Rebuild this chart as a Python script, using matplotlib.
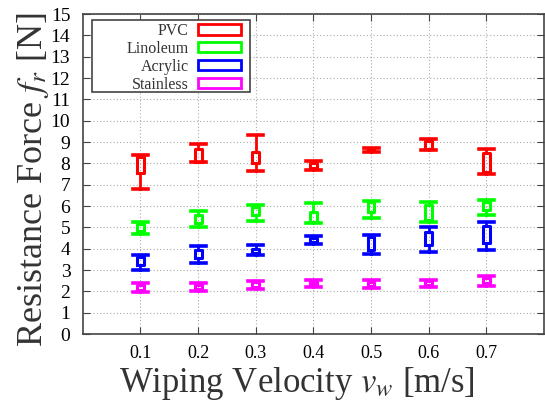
import matplotlib
matplotlib.use("Agg")
import matplotlib.pyplot as plt
from matplotlib.patches import Rectangle

plt.rcParams['font.family'] = ['Liberation Serif', 'DejaVu Serif']
plt.rcParams['mathtext.fontset'] = 'stix'

velocity = [0.1, 0.2, 0.3, 0.4, 0.5, 0.6, 0.7]
x_tick_labels = ['0.1', '0.2', '0.3', '0.4', '0.5', '0.6', '0.7']
materials = ['PVC', 'Linoleum', 'Acrylic', 'Stainless']
colors = ['#ff0000', '#00ff00', '#0000ff', '#ff00ff']

# whisker low, box low, box high, whisker high
pvc_min = [6.78, 8.05, 7.66, 7.69, 8.53, 8.63, 7.50]
pvc_q1 = [7.56, 8.08, 8.00, 7.80, 8.58, 8.70, 7.61]
pvc_q3 = [8.31, 8.70, 8.55, 8.00, 8.68, 9.05, 8.47]
pvc_max = [8.39, 8.89, 9.35, 8.11, 8.73, 9.14, 8.66]

lin_min = [4.67, 5.03, 5.30, 5.22, 5.42, 5.27, 5.58]
lin_q1 = [4.83, 5.19, 5.58, 5.27, 5.73, 5.35, 5.81]
lin_q3 = [5.16, 5.58, 5.94, 5.73, 6.20, 6.05, 6.20]
lin_max = [5.25, 5.77, 6.03, 6.13, 6.26, 6.19, 6.31]

acr_min = [3.00, 3.34, 3.73, 4.22, 3.75, 3.83, 3.94]
acr_q1 = [3.23, 3.55, 3.82, 4.30, 3.94, 4.17, 4.25]
acr_q3 = [3.60, 3.94, 3.97, 4.50, 4.56, 4.80, 5.06]
acr_max = [3.70, 4.13, 4.17, 4.59, 4.64, 5.00, 5.27]

sta_min = [1.97, 2.02, 2.11, 2.19, 2.14, 2.19, 2.27]
sta_q1 = [2.05, 2.10, 2.20, 2.28, 2.25, 2.28, 2.40]
sta_q3 = [2.30, 2.30, 2.42, 2.45, 2.45, 2.47, 2.62]
sta_max = [2.38, 2.38, 2.51, 2.53, 2.53, 2.56, 2.72]

series = [
    (pvc_min, pvc_q1, pvc_q3, pvc_max),
    (lin_min, lin_q1, lin_q3, lin_max),
    (acr_min, acr_q1, acr_q3, acr_max),
    (sta_min, sta_q1, sta_q3, sta_max),
]

fig = plt.figure(figsize=(5.45, 4.04), dpi=100)
ax = fig.add_axes([0.152, 0.173, 0.846, 0.792])

for (lo, q1, q3, hi), c in zip(series, colors):
    stats = []
    for i in range(len(velocity)):
        stats.append(dict(med=(q1[i] + q3[i]) / 2, q1=q1[i], q3=q3[i],
                          whislo=lo[i], whishi=hi[i], fliers=[]))
    ax.bxp(stats, positions=velocity, widths=0.012, capwidths=0.026,
           showfliers=False, manage_ticks=False,
           boxprops=dict(color=c, linewidth=2.2),
           whiskerprops=dict(color=c, linewidth=2.0),
           capprops=dict(color=c, linewidth=2.6),
           medianprops=dict(linewidth=0))

ax.set_xlim(0, 0.8)
ax.set_ylim(0, 15)
ax.set_xticks(velocity)
ax.set_xticklabels(x_tick_labels)
ax.set_yticks(range(0, 16))
ax.tick_params(direction='in', top=True, right=True, length=5,
               color='#444444', pad=8)
ax.tick_params(axis='x', labelsize=13)
ax.tick_params(axis='y', labelsize=14, pad=9)
ax.grid(True, linestyle=(0, (1, 2)), color='#aaaaaa', linewidth=0.8)
for s in ax.spines.values():
    s.set_color('#444444')
    s.set_linewidth(1.2)

ax.set_xlabel(r'Wiping Velocity $v_w$ [m/s]', fontsize=25, color='#333333', labelpad=0)
ax.xaxis.set_label_coords(0.465, -0.095, transform=ax.transAxes)
ax.xaxis.label.set_va('top')
ax.set_ylabel(r'Resistance Force $f_r$ [N]', fontsize=26, color='#333333')
ax.yaxis.set_label_coords(-0.148, 0.484, transform=ax.transAxes)
ax.yaxis.label.set_va('top')

# legend frame (drawn separately, gnuplot-style with wide left padding)
frame = Rectangle((0.0195, 0.756), 0.3441, 0.225, transform=ax.transAxes,
                  facecolor='white', edgecolor='#444444', linewidth=1.2, zorder=4)
ax.add_patch(frame)
handles = [Rectangle((0, 0), 1, 1, facecolor='white', edgecolor=c, linewidth=2)
           for c in colors]
leg = ax.legend(handles, materials, loc='upper right', bbox_to_anchor=(0.344, 0.972),
                borderaxespad=0, markerfirst=False, fontsize=11.5, frameon=False,
                handlelength=2.75, handleheight=0.6, labelspacing=0.12,
                borderpad=0, handletextpad=0.55)
leg.set_zorder(5)
for t in leg.get_texts():
    t.set_ha('right')
    t.set_color('#333333')

fig.savefig('out.png', dpi=100)
